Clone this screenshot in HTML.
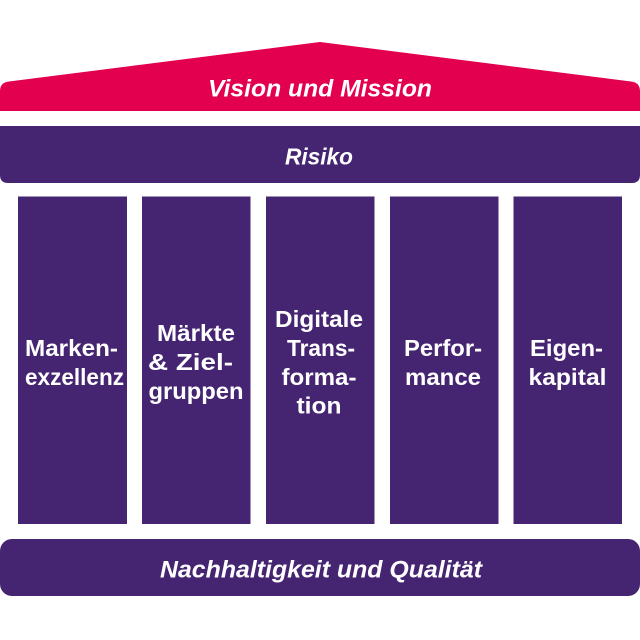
<!DOCTYPE html>
<html>
<head>
<meta charset="utf-8">
<style>
html,body{margin:0;padding:0;background:#fff;}
svg{display:block;}
.t{font-family:"Liberation Sans",sans-serif;font-weight:bold;fill:#fff;font-size:23.5px;}
.i{font-style:italic;font-size:24px;}
</style>
</head>
<body>
<svg width="640" height="640" viewBox="0 0 640 640" xmlns="http://www.w3.org/2000/svg">
  <rect width="640" height="640" fill="#fff"/>
  <!-- roof -->
  <path d="M0,111 L0,91 Q0,82.5 9,81.5 L320,42 L631,81.5 Q640,82.5 640,91 L640,111 Z" fill="#e3004f"/>
  <text class="t i" x="320" y="96.5" text-anchor="middle" textLength="224" lengthAdjust="spacingAndGlyphs">Vision und Mission</text>

  <!-- Risiko band -->
  <path d="M0,126 L640,126 L640,175 Q640,183 632,183 L8,183 Q0,183 0,175 Z" fill="#452471"/>
  <text class="t i" x="319" y="164.5" text-anchor="middle" textLength="68" lengthAdjust="spacingAndGlyphs" style="font-size:23px">Risiko</text>

  <!-- pillars -->
  <g fill="#452471">
    <rect x="18" y="196.5" width="109" height="327.5"/>
    <rect x="142" y="196.5" width="108.5" height="327.5"/>
    <rect x="266" y="196.5" width="108.5" height="327.5"/>
    <rect x="390" y="196.5" width="108.5" height="327.5"/>
    <rect x="513.5" y="196.5" width="108.5" height="327.5"/>
  </g>

  <!-- pillar labels -->
  <text class="t" x="71.5" y="356" text-anchor="middle" textLength="93" lengthAdjust="spacingAndGlyphs">Marken-</text>
  <text class="t" x="74.5" y="385" text-anchor="middle" textLength="99" lengthAdjust="spacingAndGlyphs">exzellenz</text>

  <text class="t" x="196" y="341" text-anchor="middle" textLength="78" lengthAdjust="spacingAndGlyphs">Märkte</text>
  <text class="t" x="190.5" y="370" text-anchor="middle" textLength="85" lengthAdjust="spacingAndGlyphs">&amp; Ziel-</text>
  <text class="t" x="196" y="399" text-anchor="middle" textLength="95" lengthAdjust="spacingAndGlyphs">gruppen</text>

  <text class="t" x="319" y="327" text-anchor="middle" textLength="88" lengthAdjust="spacingAndGlyphs">Digitale</text>
  <text class="t" x="321" y="356" text-anchor="middle" textLength="68" lengthAdjust="spacingAndGlyphs">Trans-</text>
  <text class="t" x="319" y="385" text-anchor="middle" textLength="75" lengthAdjust="spacingAndGlyphs">forma-</text>
  <text class="t" x="319" y="413.5" text-anchor="middle" textLength="45" lengthAdjust="spacingAndGlyphs">tion</text>

  <text class="t" x="443" y="356" text-anchor="middle" textLength="78" lengthAdjust="spacingAndGlyphs">Perfor-</text>
  <text class="t" x="443" y="385" text-anchor="middle" textLength="76" lengthAdjust="spacingAndGlyphs">mance</text>

  <text class="t" x="566.5" y="356" text-anchor="middle" textLength="73" lengthAdjust="spacingAndGlyphs">Eigen-</text>
  <text class="t" x="567.5" y="385" text-anchor="middle" textLength="78" lengthAdjust="spacingAndGlyphs">kapital</text>

  <!-- bottom band -->
  <rect x="0" y="539" width="640" height="57" rx="12" ry="12" fill="#452471"/>
  <text class="t i" x="321" y="577.5" text-anchor="middle" textLength="322" lengthAdjust="spacingAndGlyphs">Nachhaltigkeit und Qualität</text>
</svg>
</body>
</html>
